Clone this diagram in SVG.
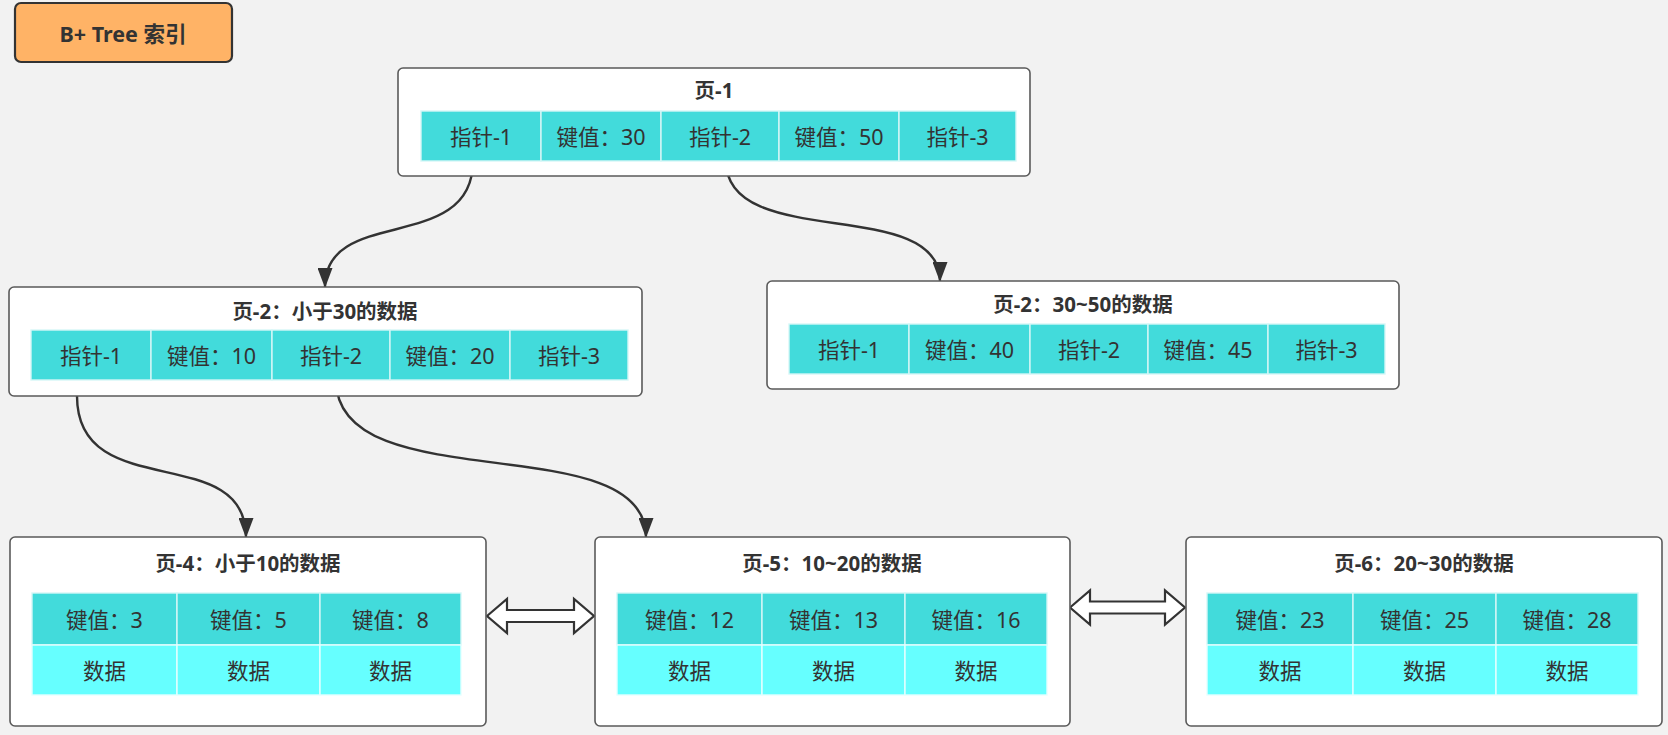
<svg xmlns="http://www.w3.org/2000/svg" width="1668" height="735" viewBox="0 0 1668 735">
<defs>
<style>
.bg{fill:#f2f2f2}
.box{fill:#ffffff;stroke:#5a5a5a;stroke-width:1.6}
.k{fill:#42dbdb;stroke:#d6f7f7;stroke-width:1.4}
.d{fill:#66ffff;stroke:#e6ffff;stroke-width:1.4}
.t{font-family:"Noto Sans","Noto Sans CJK SC",sans-serif;font-size:21.5px;fill:#333333;text-anchor:middle;dominant-baseline:central}
.h{font-weight:bold;font-size:20.5px}
.m{font-size:21.5px}
.c{stroke:#333333;stroke-width:2.4;fill:none;marker-end:url(#ah)}
.da{fill:#ffffff;stroke:#333333;stroke-width:2.2;stroke-linejoin:miter}
</style>
<marker id="ah" viewBox="0 0 20 15" refX="19" refY="7.5" markerWidth="20" markerHeight="15" markerUnits="userSpaceOnUse" orient="auto">
<path d="M0,0 L20,7.5 L0,15 z" fill="#333333"/>
</marker>
</defs>
<rect class="bg" x="0" y="0" width="1668" height="735"/>

<g id="title">
<rect x="15" y="3" width="217" height="59" rx="6" fill="#ffb366" stroke="#333333" stroke-width="2.2"/>
<text class="t h m" x="123" y="33">B+ Tree 索引</text>
</g>

<g id="connectors">
<path class="c" d="M473,161 C473,255 325,205 325,287"/>
<path class="c" d="M726,161 C726,252 940,195 940,281"/>
<path class="c" d="M77,396 C77,505 246,440 246,537"/>
<path class="c" d="M336,380 C336,502 646,425 646,537"/>
<polygon class="da" points="487,616 507,599 507,610 574,610 574,599 594,616 574,633 574,622 507,622 507,633"/>
<polygon class="da" points="1070,607.5 1090,590.5 1090,601.5 1165,601.5 1165,590.5 1185,607.5 1165,624.5 1165,613.5 1090,613.5 1090,624.5"/>
</g>

<g id="page1">
<rect class="box" x="398" y="68" width="632" height="108" rx="5"/>
<text class="t h" x="714" y="90">页-1</text>
<rect class="k" x="421" y="111" width="120" height="50"/>
<rect class="k" x="541" y="111" width="120" height="50"/>
<rect class="k" x="661" y="111" width="118" height="50"/>
<rect class="k" x="779" y="111" width="120" height="50"/>
<rect class="k" x="899" y="111" width="117" height="50"/>
<text class="t" x="481" y="136">指针-1</text>
<text class="t" x="601" y="136">键值：30</text>
<text class="t" x="720" y="136">指针-2</text>
<text class="t" x="839" y="136">键值：50</text>
<text class="t" x="957.5" y="136">指针-3</text>
</g>

<g id="page2">
<rect class="box" x="9" y="287" width="633" height="109" rx="5"/>
<text class="t h" x="325" y="311">页-2：小于30的数据</text>
<rect class="k" x="31" y="330" width="120" height="50"/>
<rect class="k" x="151" y="330" width="121" height="50"/>
<rect class="k" x="272" y="330" width="118" height="50"/>
<rect class="k" x="390" y="330" width="120" height="50"/>
<rect class="k" x="510" y="330" width="118" height="50"/>
<text class="t" x="91" y="355">指针-1</text>
<text class="t" x="211.5" y="355">键值：10</text>
<text class="t" x="331" y="355">指针-2</text>
<text class="t" x="450" y="355">键值：20</text>
<text class="t" x="569" y="355">指针-3</text>
</g>

<g id="page3">
<rect class="box" x="767" y="281" width="632" height="108" rx="5"/>
<text class="t h" x="1083" y="304">页-2：30~50的数据</text>
<rect class="k" x="789" y="324" width="120" height="50"/>
<rect class="k" x="909" y="324" width="121" height="50"/>
<rect class="k" x="1030" y="324" width="118" height="50"/>
<rect class="k" x="1148" y="324" width="120" height="50"/>
<rect class="k" x="1268" y="324" width="117" height="50"/>
<text class="t" x="849" y="349">指针-1</text>
<text class="t" x="969.5" y="349">键值：40</text>
<text class="t" x="1089" y="349">指针-2</text>
<text class="t" x="1208" y="349">键值：45</text>
<text class="t" x="1326.5" y="349">指针-3</text>
</g>

<g id="page4">
<rect class="box" x="10" y="537" width="476" height="189" rx="5"/>
<text class="t h" x="248" y="563">页-4：小于10的数据</text>
<rect class="k" x="32" y="593" width="145" height="52"/>
<rect class="k" x="177" y="593" width="143" height="52"/>
<rect class="k" x="320" y="593" width="141" height="52"/>
<rect class="d" x="32" y="645" width="145" height="50"/>
<rect class="d" x="177" y="645" width="143" height="50"/>
<rect class="d" x="320" y="645" width="141" height="50"/>
<text class="t" x="104.5" y="619">键值：3</text>
<text class="t" x="248.5" y="619">键值：5</text>
<text class="t" x="390.5" y="619">键值：8</text>
<text class="t" x="104.5" y="670">数据</text>
<text class="t" x="248.5" y="670">数据</text>
<text class="t" x="390.5" y="670">数据</text>
</g>

<g id="page5">
<rect class="box" x="595" y="537" width="475" height="189" rx="5"/>
<text class="t h" x="832" y="563">页-5：10~20的数据</text>
<rect class="k" x="617" y="593" width="145" height="52"/>
<rect class="k" x="762" y="593" width="143" height="52"/>
<rect class="k" x="905" y="593" width="142" height="52"/>
<rect class="d" x="617" y="645" width="145" height="50"/>
<rect class="d" x="762" y="645" width="143" height="50"/>
<rect class="d" x="905" y="645" width="142" height="50"/>
<text class="t" x="689.5" y="619">键值：12</text>
<text class="t" x="833.5" y="619">键值：13</text>
<text class="t" x="976" y="619">键值：16</text>
<text class="t" x="689.5" y="670">数据</text>
<text class="t" x="833.5" y="670">数据</text>
<text class="t" x="976" y="670">数据</text>
</g>

<g id="page6">
<rect class="box" x="1186" y="537" width="476" height="189" rx="5"/>
<text class="t h" x="1424" y="563">页-6：20~30的数据</text>
<rect class="k" x="1207" y="593" width="146" height="52"/>
<rect class="k" x="1353" y="593" width="143" height="52"/>
<rect class="k" x="1496" y="593" width="142" height="52"/>
<rect class="d" x="1207" y="645" width="146" height="50"/>
<rect class="d" x="1353" y="645" width="143" height="50"/>
<rect class="d" x="1496" y="645" width="142" height="50"/>
<text class="t" x="1280" y="619">键值：23</text>
<text class="t" x="1424.5" y="619">键值：25</text>
<text class="t" x="1567" y="619">键值：28</text>
<text class="t" x="1280" y="670">数据</text>
<text class="t" x="1424.5" y="670">数据</text>
<text class="t" x="1567" y="670">数据</text>
</g>
</svg>
